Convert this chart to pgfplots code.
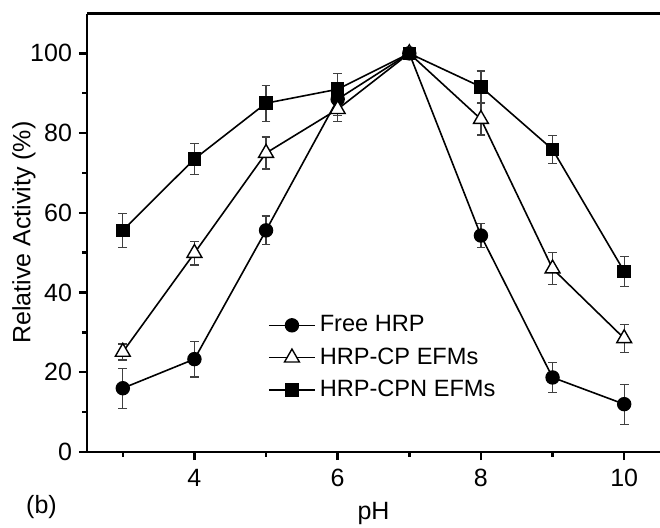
\documentclass[border=0pt]{standalone}
\usepackage{fontspec}
\setmainfont{Liberation Sans}
\usepackage{pgfplots}
\usepackage{pgfplotstable}
\pgfplotsset{compat=1.18}
\pgfplotstableread{
x y e
3 16.0 5.0
4 23.3 4.5
5 55.6 3.6
6 88.5 4.0
7 100 0.8
8 54.3 3.0
9 18.7 3.8
10 12.0 5.0
}\free
\pgfplotstableread{
x y e
3 25.1 2.0
4 49.9 3.0
5 75.0 4.0
6 86.0 3.0
7 100 0.8
8 83.5 4.0
9 46.0 4.0
10 28.5 3.5
}\cp
\pgfplotstableread{
x y e
3 55.6 4.3
4 73.5 3.8
5 87.5 4.5
6 91.0 4.0
7 100 0.8
8 91.6 4.0
9 75.9 3.5
10 45.3 3.7
}\cpn
\begin{document}
\begin{tikzpicture}
\begin{axis}[
  scale only axis, width=286.5pt, height=219.25pt,
  xmin=2.5, xmax=10.5, ymin=0, ymax=110,
  axis x line*=box, axis y line*=left,
  xtick pos=left, ytick pos=left,
  xtick={4,6,8,10}, minor xtick={3,5,7,9},
  ytick={0,20,40,60,80,100}, minor ytick={10,30,50,70,90},
  tick align=outside,
  major tick length=4pt, minor tick length=2.3pt,
  every tick/.style={black, line width=1.2pt},
  axis line style={line width=1.3pt},
  /pgf/number format/assume math mode=true,
  ticklabel style={font=\fontsize{12.5}{14}\selectfont},
  xticklabel style={yshift=-1pt},
  xlabel={pH}, ylabel={Relative Activity (\%)},
  label style={font=\fontsize{12.5}{14}\selectfont},
  xlabel style={yshift=-1pt},
  ylabel style={yshift=-9.5pt},
  clip=false,
  legend style={at={(rel axis cs:0.305,0.33)}, anchor=north west, draw=none, fill=none,
    font=\fontsize{11.8}{13}\selectfont, row sep=2.5pt},
  legend cell align=left,
  legend image code/.code={\draw[mark repeat=2,mark phase=2] plot coordinates {(0pt,0pt) (11.5pt,0pt) (23pt,0pt)};},
  every axis plot/.append style={line width=0.8pt, black},
  error bars/y dir=both, error bars/y explicit,
  error bars/error bar style={line width=0.6pt, black!75},
  error bars/error mark options={rotate=90, mark size=2.2pt, line width=0.6pt, black!75},
]
\addplot[mark=*, mark size=3.2pt, mark options={solid}] table[x=x, y=y, y error=e] {\free};
\addlegendentry{Free HRP}
\addplot[mark=triangle*, mark size=4.3pt, mark options={fill=white, line width=0.7pt}] table[x=x, y=y, y error=e] {\cp};
\addlegendentry{HRP-CP EFMs}
\addplot[mark=square*, mark size=3pt] table[x=x, y=y, y error=e] {\cpn};
\addlegendentry{HRP-CPN EFMs}
\node[font=\fontsize{12.5}{14}\selectfont] at (rel axis cs:-0.0794,-0.1254) {(b)};
\end{axis}
\path (current axis.south west) ++(-43.5pt,-37.5pt) coordinate (bl);
\path (current axis.north east) ++(0pt,6.75pt) coordinate (tr);
\pgfresetboundingbox
\path[use as bounding box] (bl) rectangle (tr);
\end{tikzpicture}
\end{document}
